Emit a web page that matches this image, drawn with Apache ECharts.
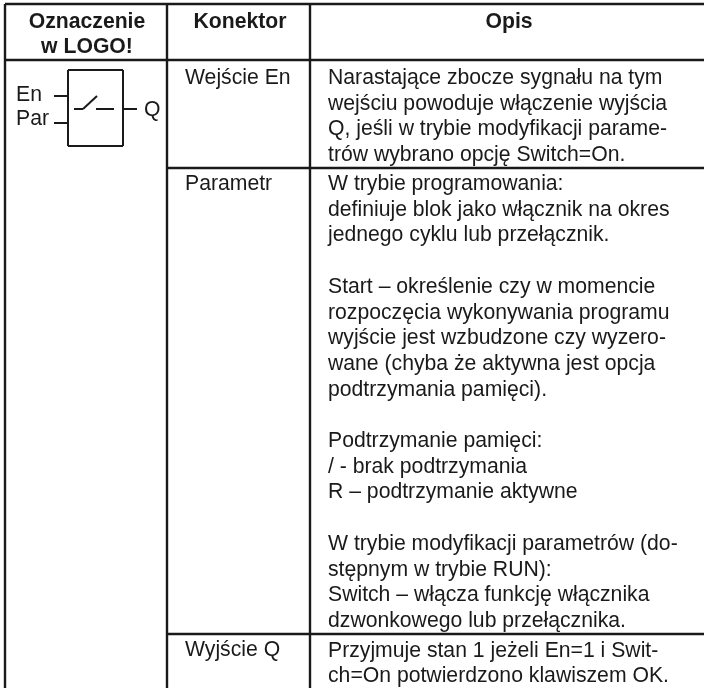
<!DOCTYPE html>
<html>
<head>
<meta charset="utf-8">
<style>
  html, body { margin: 0; padding: 0; background: #fff; }
  #main { width: 704px; height: 688px; }
</style>
</head>
<body>
<div id="main"></div>
<script src="https://cdn.jsdelivr.net/npm/echarts@6/dist/echarts.min.js"></script>
<script>
// tresc tabeli
var headers = [['Oznaczenie', 'w LOGO!'], ['Konektor'], ['Opis']];
var connectors = ['Wejście En', 'Parametr', 'Wyjście Q'];
var descEn = [
  'Narastające zbocze sygnału na tym',
  'wejściu powoduje włączenie wyjścia',
  'Q, jeśli w trybie modyfikacji parame-',
  'trów wybrano opcję Switch=On.'
];
var descPar = [
  'W trybie programowania:',
  'definiuje blok jako włącznik na okres',
  'jednego cyklu lub przełącznik.',
  '',
  'Start – określenie czy w momencie',
  'rozpoczęcia wykonywania programu',
  'wyjście jest wzbudzone czy wyzero-',
  'wane (chyba że aktywna jest opcja',
  'podtrzymania pamięci).',
  '',
  'Podtrzymanie pamięci:',
  '/ - brak podtrzymania',
  'R – podtrzymanie aktywne',
  '',
  'W trybie modyfikacji parametrów (do-',
  'stępnym w trybie RUN):',
  'Switch – włącza funkcję włącznika',
  'dzwonkowego lub przełącznika.'
];
var descQ = [
  'Przyjmuje stan 1 jeżeli En=1 i Swit-',
  'ch=On potwierdzono klawiszem OK.'
];

var colX = [5, 167, 310, 704];
var rowY = [4, 60, 168, 634, 688];
var lineH = 25.7;
var ink = '#1a1a1a';
var font = '"Liberation Sans", Arial, sans-serif';

var elements = [];

function line(x1, y1, x2, y2, w) {
  elements.push({
    type: 'line',
    shape: { x1: x1, y1: y1, x2: x2, y2: y2 },
    style: { stroke: ink, lineWidth: w || 2 }
  });
}

function text(str, x, y, bold, align) {
  elements.push({
    type: 'text',
    x: x,
    y: y + 1.2,
    style: {
      text: str,
      fill: ink,
      font: (bold ? 'bold ' : '') + '21.2px ' + font,
      textAlign: align || 'left',
      textVerticalAlign: 'middle'
    }
  });
}

function textBlock(list, x, y) {
  list.forEach(function (s, i) {
    if (s) text(s, x, y + i * lineH);
  });
}

// siatka tabeli
line(colX[0], rowY[0], 704, rowY[0], 2.4);
line(colX[0], rowY[1], 704, rowY[1], 2.4);
colX.slice(0, 3).forEach(function (x) { line(x, rowY[0], x, 688, 2.4); });
line(colX[1], rowY[2], 704, rowY[2], 2.4);
line(colX[1], rowY[3], 704, rowY[3], 2.4);

// naglowki
text(headers[0][0], 87, 21, true, 'center');
text(headers[0][1], 87, 46, true, 'center');
text(headers[1][0], 240, 21, true, 'center');
text(headers[2][0], 509, 21, true, 'center');

// konektory
text(connectors[0], 185, 77);
text(connectors[1], 185, 183);
text(connectors[2], 185, 649);

// opisy
textBlock(descEn, 328, 77);
textBlock(descPar, 328, 183);
textBlock(descQ, 328, 649.5);

// symbol bloku
text('En', 16, 94);
text('Par', 16, 118);
text('Q', 144, 109);
line(68, 70, 123, 70);
line(123, 70, 123, 146);
line(123, 146, 68, 146);
line(68, 70, 68, 146);
line(54, 96, 68, 96);
line(54, 123, 68, 123);
line(123, 109, 137, 109);
line(74, 109, 83, 109);
line(83, 109, 97, 96);
line(96, 109, 114, 109);

var chart = echarts.init(document.getElementById('main'), null, { renderer: 'canvas' });
chart.setOption({
  animation: false,
  backgroundColor: '#fff',
  graphic: { elements: elements }
});
</script>
</body>
</html>
